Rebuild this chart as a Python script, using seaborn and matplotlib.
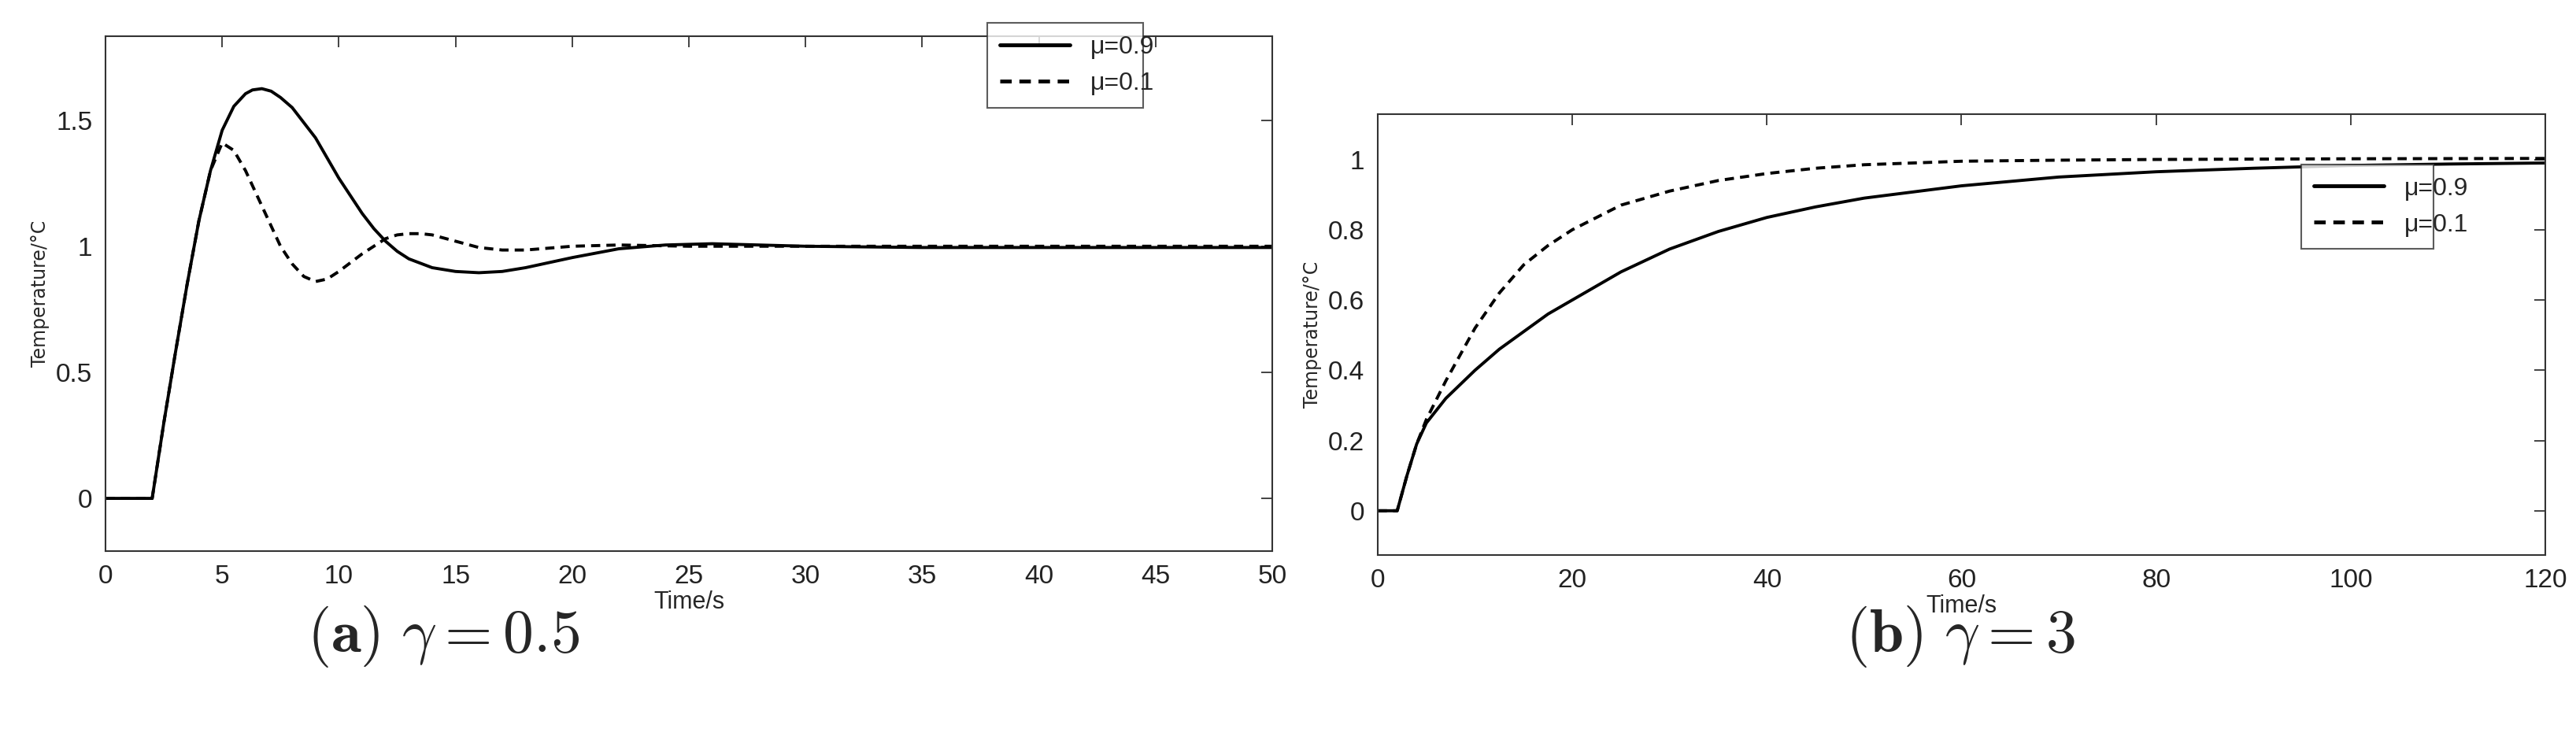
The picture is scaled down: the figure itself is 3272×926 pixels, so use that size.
import numpy as np
import pandas as pd
import matplotlib
matplotlib.use("Agg")
import matplotlib.pyplot as plt
import seaborn as sns

# Panel (a) gamma = 0.5
t_a_solid = [0, 2, 2.5, 3, 3.5, 4, 4.5, 5, 5.5, 6, 6.3, 6.7, 7.1, 7.5, 8, 8.5, 9, 9.5, 10, 10.5, 11, 11.5, 12, 12.5, 13, 14, 15, 16, 17, 18, 20, 22, 24, 26, 28, 30, 35, 40, 50]
y_a_solid = [0, 0, 0.30, 0.58, 0.85, 1.10, 1.30, 1.46, 1.555, 1.605, 1.62, 1.625, 1.615, 1.59, 1.55, 1.49, 1.43, 1.35, 1.27, 1.20, 1.13, 1.07, 1.02, 0.98, 0.95, 0.915, 0.90, 0.895, 0.90, 0.915, 0.955, 0.99, 1.005, 1.01, 1.005, 1.0, 0.995, 0.995, 0.995]
t_a_dash = [0, 2, 2.5, 3, 3.5, 4, 4.5, 5, 5.5, 6, 6.5, 7, 7.5, 8, 8.5, 9, 9.5, 10, 10.5, 11, 11.5, 12, 12.5, 13, 13.5, 14, 15, 16, 17, 18, 20, 22, 25, 30, 50]
y_a_dash = [0, 0, 0.30, 0.58, 0.85, 1.10, 1.30, 1.41, 1.38, 1.30, 1.20, 1.10, 1.00, 0.93, 0.88, 0.86, 0.87, 0.90, 0.935, 0.97, 1.00, 1.03, 1.045, 1.05, 1.05, 1.045, 1.02, 0.995, 0.985, 0.985, 1.0, 1.005, 1.0, 1.0, 1.0]

# Panel (b) gamma = 3
t_b_solid = [0, 2, 3, 4, 5, 7, 10, 12.5, 15, 17.5, 20, 25, 30, 35, 40, 45, 50, 60, 70, 80, 90, 100, 110, 120]
y_b_solid = [0, 0, 0.10, 0.19, 0.25, 0.32, 0.40, 0.46, 0.51, 0.56, 0.60, 0.68, 0.745, 0.795, 0.835, 0.865, 0.89, 0.925, 0.95, 0.965, 0.975, 0.983, 0.987, 0.99]
t_b_dash = [0, 2, 3, 4, 5, 7, 10, 12.5, 15, 17.5, 20, 25, 30, 35, 40, 45, 50, 60, 70, 80, 100, 120]
y_b_dash = [0, 0, 0.10, 0.19, 0.26, 0.37, 0.52, 0.62, 0.70, 0.755, 0.80, 0.87, 0.91, 0.94, 0.96, 0.975, 0.985, 0.995, 0.998, 1.0, 1.002, 1.003]

labels = ["μ=0.9", "μ=0.1"]

sns.set_theme(style="white")
plt.rcParams['font.family'] = ['Liberation Sans Narrow', 'Liberation Sans', 'DejaVu Sans']
plt.rcParams['mathtext.fontset'] = 'cm'

fig = plt.figure(figsize=(32.73, 9.26), dpi=100)
W, H = 3273, 926
axA = fig.add_axes([134 / W, 1 - 700 / H, (1616 - 134) / W, (700 - 46) / H])
axB = fig.add_axes([1750 / W, 1 - 705 / H, (3233 - 1750) / W, (705 - 145) / H])

def make_df(ts, ys, tdash, ydash):
    return pd.concat([
        pd.DataFrame({"t": ts, "y": ys, "s": labels[0]}),
        pd.DataFrame({"t": tdash, "y": ydash, "s": labels[1]}),
    ])

panels = [
    (axA, make_df(t_a_solid, y_a_solid, t_a_dash, y_a_dash), (0, 50), (-0.209, 1.833),
     np.arange(0, 51, 5), [0, 0.5, 1, 1.5], (0.745, 0.89, 0.155, 0.16), r"$\mathbf{(a)}\ \gamma = 0.5$", 563),
    (axB, make_df(t_b_solid, y_b_solid, t_b_dash, y_b_dash), (0, 120), (-0.126, 1.129),
     np.arange(0, 121, 20), [0, 0.2, 0.4, 0.6, 0.8, 1], (0.78, 0.73, 0.135, 0.185), r"$\mathbf{(b)}\ \gamma = 3$", 2490),
]

for ax, df, xl, yl, xt, yt, lbox, cap, capx in panels:
    sns.lineplot(data=df, x="t", y="y", style="s", dashes={labels[0]: "", labels[1]: (3, 2)},
                 color="black", linewidth=2.8, ax=ax, sort=False, estimator=None)
    ax.set_xlim(*xl)
    ax.set_ylim(*yl)
    ax.set_xticks(xt)
    ax.set_yticks(yt)
    ax.set_yticklabels([f"{v:g}" for v in yt])
    ax.tick_params(direction="in", top=True, right=True, length=10, width=1.2, labelsize=24, colors="#222222", pad=12)
    for sp in ax.spines.values():
        sp.set_color("#333333")
        sp.set_linewidth(1.5)
    ax.set_xlabel("Time/s", fontsize=22, labelpad=2)
    ax.set_ylabel("Temperature/°C", fontsize=17, family=['DejaVu Sans'], labelpad=6)
    leg = ax.legend(loc="upper left", bbox_to_anchor=lbox, mode="expand", fontsize=23,
                    frameon=True, fancybox=False, edgecolor="#333333", handlelength=2.8, borderpad=0.5)
    leg.get_frame().set_linewidth(1.5)
    for ln in leg.get_lines():
        ln.set_linewidth(3.5)
    fig.text(capx / W, 1 - 808 / H, cap, ha="center", va="center", fontsize=56)

fig.savefig("out.png", dpi=100)
